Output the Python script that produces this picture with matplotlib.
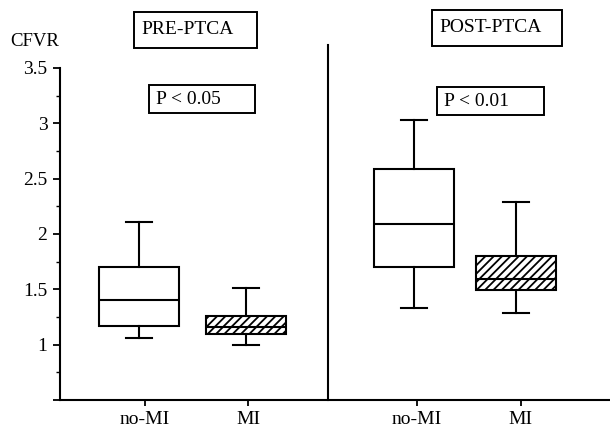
import matplotlib
matplotlib.use('Agg')
import matplotlib.pyplot as plt
from matplotlib.patches import Rectangle

plt.rcParams['font.family'] = ['Liberation Serif', 'DejaVu Serif']
plt.rcParams['hatch.linewidth'] = 1.3

# datos (CFVR)
grupos = ['no-MI', 'MI', 'no-MI', 'MI']
p_bajo = [1.06, 1.00, 1.33, 1.29]
q1 = [1.17, 1.10, 1.70, 1.49]
mediana = [1.40, 1.16, 2.09, 1.59]
q3 = [1.70, 1.26, 2.59, 1.80]
p_alto = [2.11, 1.51, 3.03, 2.29]
rellenos = ['', '////', '', '////']

pos_ticks = [1.0, 2.0, 3.64, 4.65]
pos_cajas = [0.94, 1.98, 3.61, 4.60]
fases = ['PRE-PTCA', 'POST-PTCA']
p_valores = ['P < 0.05', 'P < 0.01']

W, H = 610, 430
fig = plt.figure(figsize=(W / 100, H / 100), dpi=100)
ax = fig.add_axes([60 / W, 30 / H, 550 / W, 332 / H])

stats = []
for i in range(len(grupos)):
    stats.append({'whislo': p_bajo[i], 'q1': q1[i], 'med': mediana[i],
                  'q3': q3[i], 'whishi': p_alto[i], 'fliers': []})

lw = 1.5
bp = ax.bxp(stats, positions=pos_cajas, widths=0.78, capwidths=0.25,
            showfliers=False, patch_artist=True,
            boxprops=dict(linewidth=lw, edgecolor='black', facecolor='white'),
            medianprops=dict(linewidth=lw, color='black'),
            whiskerprops=dict(linewidth=lw, color='black'),
            capprops=dict(linewidth=lw, color='black'))
for caja, h in zip(bp['boxes'], rellenos):
    caja.set_hatch(h)

# linea que separa pre y post
ax.plot([2.78, 2.78], [0.5, 3.71], color='black', lw=1.5, clip_on=False)

ax.set_xlim(0.175, 5.515)
ax.set_ylim(0.5, 3.5)
ax.set_xticks(pos_ticks)
ax.set_xticklabels(grupos, fontsize=14)
ax.set_yticks([0.5, 1, 1.5, 2, 2.5, 3, 3.5])
ax.set_yticklabels(['', '1', '1.5', '2', '2.5', '3', '3.5'], fontsize=14)
ax.set_yticks([0.75, 1.25, 1.75, 2.25, 2.75, 3.25], minor=True)
ax.tick_params(axis='y', which='major', length=5, width=1.3, pad=4)
ax.tick_params(axis='y', which='minor', length=3, width=1.0)
ax.tick_params(axis='x', length=4, width=1.3, pad=4)
for lado in ['top', 'right']:
    ax.spines[lado].set_visible(False)
for lado in ['left', 'bottom']:
    ax.spines[lado].set_linewidth(1.5)

fig.text(10 / W, 1 - 42 / H, 'CFVR', fontsize=13.5, va='center')

# cajas de texto (x0, x1, y0, y1 en pixeles desde arriba)
cajas_txt = [(134, 257, 12, 48, fases[0]), (149, 255, 85, 113, p_valores[0]),
             (432, 562, 10, 46, fases[1]), (437, 544, 87, 115, p_valores[1])]
for x0, x1, y0, y1, txt in cajas_txt:
    fig.patches.append(Rectangle((x0 / W, 1 - y1 / H), (x1 - x0) / W, (y1 - y0) / H,
                                 transform=fig.transFigure, fill=False,
                                 edgecolor='black', linewidth=1.4))
    fig.text((x0 + 7) / W, 1 - (y0 + y1) / 2 / H, txt, fontsize=14, va='center')

fig.savefig('out.png', dpi=100)
